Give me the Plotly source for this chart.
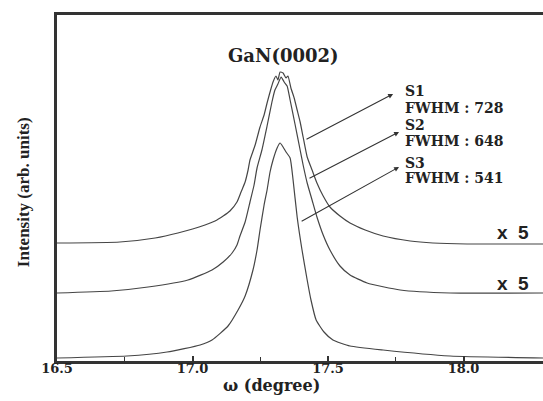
import plotly.graph_objects as go

# ---- data (omega in degrees, intensity in arbitrary units) ----
s1_omega = [16.500, 16.732, 16.862, 16.946, 17.046, 17.083, 17.113, 17.138, 17.164, 17.179,
            17.194, 17.205, 17.212, 17.231, 17.249, 17.264, 17.275, 17.286, 17.297, 17.308,
            17.315, 17.323, 17.334, 17.345, 17.352, 17.363, 17.375, 17.386, 17.397, 17.408,
            17.423, 17.441, 17.459, 17.482, 17.507, 17.544, 17.581, 17.637, 17.703, 17.803,
            17.887, 18.013, 18.293]
s1_int = [118, 119, 123, 128, 136, 140, 145, 150, 159, 169,
          179, 191, 201, 216, 234, 246, 258, 269, 279, 285,
          281, 289, 288, 283, 285, 273, 263, 251, 239, 224,
          204, 191, 178, 165, 154, 145, 138, 131, 125, 120,
          118, 117, 117]

s2_omega = [16.500, 16.700, 16.836, 16.983, 17.072, 17.113, 17.146, 17.164, 17.175, 17.194, 17.212,
            17.227, 17.238, 17.256, 17.275, 17.293, 17.304, 17.315, 17.327, 17.338, 17.349,
            17.360, 17.378, 17.397, 17.408, 17.423, 17.441, 17.459, 17.482, 17.507, 17.544,
            17.581, 17.644, 17.766, 17.950, 18.293]
s2_int = [68, 70, 74, 81, 91, 99, 108, 116, 125, 139, 159,
          176, 193, 211, 235, 259, 271, 277, 284, 279, 275,
          261, 237, 211, 196, 178, 161, 144, 126, 111, 95,
          86, 78, 71, 68, 68]

s3_omega = [16.500, 16.758, 16.906, 17.028, 17.072, 17.131, 17.168, 17.194, 17.223, 17.238,
            17.249, 17.264, 17.275, 17.286, 17.297, 17.312, 17.323, 17.334, 17.345, 17.360,
            17.371, 17.386, 17.404, 17.423, 17.437, 17.456, 17.485, 17.518, 17.581, 17.703,
            17.950, 18.293]
s3_int = [3, 5, 9, 16, 21, 35, 51, 65, 91, 111,
          131, 156, 171, 189, 201, 213, 218, 214, 209, 203,
          181, 144, 111, 81, 61, 41, 29, 21, 15, 11,
          5, 3]

tick_vals = [16.5, 17.0, 17.5, 18.0]
tick_text = ["16.5", "17.0", "17.5", "18.0"]

sample_names = ["S1", "S2", "S3"]
fwhm_values = [728, 648, 541]
scale_labels = ["x  5", "x  5"]

# ---- figure ----
fig = go.Figure()
line_style = dict(color="#454545", width=1.2, shape="spline", smoothing=0.5)
for om, it, nm in [(s1_omega, s1_int, "S1"), (s2_omega, s2_int, "S2"), (s3_omega, s3_int, "S3")]:
    fig.add_trace(go.Scatter(x=om, y=it, mode="lines", line=line_style, name=nm,
                             showlegend=False, hoverinfo="skip"))

serif = "DejaVu Serif"
ann = []
ann.append(dict(x=17.334, y=306, xref="x", yref="y", text="<b>GaN(0002)</b>", showarrow=False,
                xanchor="center", yanchor="middle",
                font=dict(family=serif, size=18, color="#222")))

label_y = [(270, 253), (236, 220), (198, 183)]
for nm, fw, (ys, yf) in zip(sample_names, fwhm_values, label_y):
    ann.append(dict(x=17.777, y=ys, xref="x", yref="y", text=f"<b>{nm}</b>", showarrow=False,
                    xanchor="left", yanchor="middle", font=dict(family=serif, size=14, color="#222")))
    ann.append(dict(x=17.777, y=yf, xref="x", yref="y", text=f"<b>FWHM : {fw}</b>", showarrow=False,
                    xanchor="left", yanchor="middle", font=dict(family=serif, size=14, color="#222")))

# arrows from curves to labels (head at label end)
arrows = [((17.740, 267), (17.415, 221)),
          ((17.762, 229), (17.426, 182)),
          ((17.762, 194), (17.397, 139))]
for (hx, hy), (tx, ty) in arrows:
    ann.append(dict(x=hx, y=hy, ax=tx, ay=ty, xref="x", yref="y", axref="x", ayref="y",
                    text="", showarrow=True, arrowhead=2, arrowsize=0.9, arrowwidth=1.1,
                    arrowcolor="#333"))

for lab, yv in zip(scale_labels, [129, 78]):
    ann.append(dict(x=18.183, y=yv, xref="x", yref="y", text=f"<b>{lab}</b>", showarrow=False,
                    xanchor="center", yanchor="middle",
                    font=dict(family="Liberation Sans", size=19, color="#222")))

# axis titles
ann.append(dict(x=0.442, y=-0.071, xref="paper", yref="paper", text="<b>ω (degree)</b>",
                showarrow=False, xanchor="center", yanchor="middle",
                font=dict(family=serif, size=16, color="#222")))
ann.append(dict(x=-0.070, y=0.488, xref="paper", yref="paper", text="<b>Intensity (arb. units)</b>",
                showarrow=False, textangle=-90, xanchor="center", yanchor="middle",
                font=dict(family="Liberation Serif", size=17, color="#222")))

fig.update_layout(
    width=543, height=401,
    margin=dict(l=57, r=0, t=15, b=40),
    paper_bgcolor="white", plot_bgcolor="white",
    annotations=ann,
    xaxis=dict(range=[16.5, 18.293], tickvals=tick_vals, ticktext=tick_text,
               ticks="inside", ticklen=5, tickwidth=1.5, tickcolor="#333",
               ticklabelstandoff=-6,
               minor=dict(tickvals=[16.75, 17.25, 17.75], ticks="inside", ticklen=4,
                          tickwidth=1.2, tickcolor="#333"),
               showline=True, linewidth=2.5, linecolor="#333", mirror=True,
               showgrid=False, zeroline=False,
               tickfont=dict(family=serif, size=13, color="#222", weight="bold")),
    yaxis=dict(range=[0, 346], showticklabels=False, ticks="", showgrid=False, zeroline=False,
               showline=True, linewidth=3, linecolor="#333"),
)

fig.write_html("out.html", config={"displayModeBar": False},
               post_script="document.body.style.margin='0';document.body.style.padding='0';"
                           "document.documentElement.style.overflow='hidden';")
